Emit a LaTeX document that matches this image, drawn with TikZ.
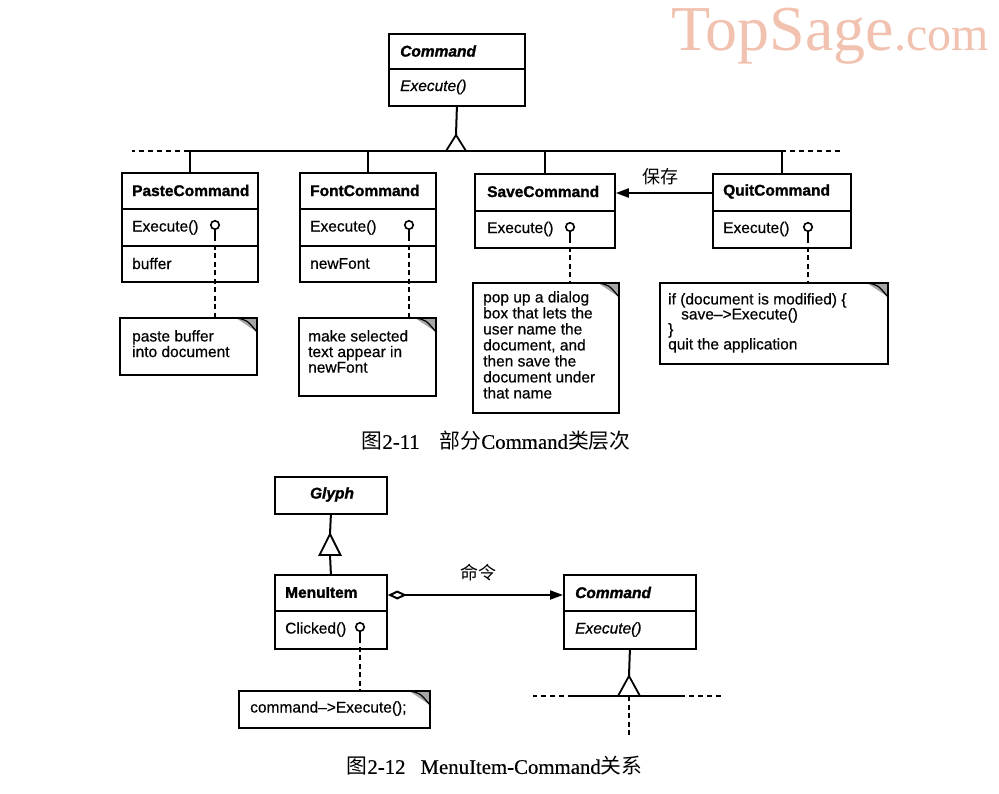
\documentclass[tikz,border=0pt]{standalone}
\usepackage{fontspec}
\setmainfont{Liberation Sans}[FakeBold=0.5]
\newfontfamily\heavy{Liberation Sans}[FakeBold=1.4]
\newfontfamily\cjk{Noto Sans CJK SC}
\newfontfamily\capserif{Liberation Serif}[FakeBold=0.4]
\newfontfamily\wmserif{Liberation Serif}
\usetikzlibrary{arrows.meta}
\definecolor{wmark}{RGB}{242,194,176}
\newcommand\divider[2]{\draw[line width=1.8pt] ([yshift=-#2pt]#1.north west) -- ([yshift=-#2pt]#1.north east);}
\begin{document}
\begin{tikzpicture}[x=1pt,y=-1pt,
  box/.style={draw, line width=1.8pt, inner sep=0, anchor=north west},
  cname/.style={font=\heavy\fontsize{15.5}{16}\selectfont\bfseries, inner sep=0, anchor=west},
  iname/.style={font=\heavy\fontsize{15.5}{16}\selectfont\bfseries\itshape, inner sep=0, anchor=west},
  meth/.style={font=\fontsize{15.5}{16}\selectfont, inner sep=0, anchor=west},
  imeth/.style={font=\fontsize{15.5}{16}\selectfont\itshape, inner sep=0, anchor=west},
  notetext/.style={font=\fontsize{15.5}{15.6}\selectfont, inner sep=0, anchor=north west, align=left},
  note/.style={draw, line width=1.8pt, inner sep=0, anchor=north west,
    path picture={
      \fill[gray!70] ([xshift=-21pt]path picture bounding box.north east) -- (path picture bounding box.north east) -- ([yshift=-14pt]path picture bounding box.north east) -- cycle;
      \draw[line width=1.2pt] ([xshift=-21pt]path picture bounding box.north east) .. controls ([xshift=-10pt,yshift=-2pt]path picture bounding box.north east) .. ([yshift=-14pt]path picture bounding box.north east);
    }},
  lolli/.style={circle, draw, line width=1.6pt, minimum size=8.5pt, inner sep=0},
  conn/.style={line width=2pt},
  dashline/.style={line width=2pt, dash pattern=on 5pt off 3.5pt},
  hdash/.style={line width=1.8pt, dash pattern=on 5pt off 4pt},
  tri/.style={line width=1.8pt, fill=white, line join=miter},
  cjklabel/.style={font=\cjk\fontsize{18}{18}\selectfont, inner sep=0},
  caption/.style={font=\fontsize{20.8}{21}\selectfont, inner sep=0}
]
\useasboundingbox (0,0) rectangle (999,793);
\fill[white] (0,0) rectangle (999,793);

% watermark
\node[inner sep=0, anchor=base west, text=wmark, font=\wmserif\fontsize{64}{64}\selectfont] (wm) at (671,50) {TopSage\fontsize{48}{48}\selectfont.com};

%%%%%%%%%%%%%%%% Figure 2-11
% Command
\node[box, minimum width=136pt, minimum height=72pt] (cmd) at (388,33) {};
\divider{cmd}{36}
\node[iname] (cmdn) at (400,51) {Command};
\node[imeth] (cmdm) at (400,87) {Execute()};

% hierarchy
\coordinate (h1) at (456,151);
\coordinate (hl) at (189,151);
\coordinate (hr) at (781,151);
\draw[conn] (hl) -- (hr);
\draw[hdash] (hl) -- ++(-57,0);
\draw[hdash] (hr) -- ++(61,0);
\draw[conn] (cmd.south) -- ([yshift=16pt]h1);
\draw[tri] ([xshift=-10pt]h1) -- ([yshift=16pt]h1) -- ([xshift=10pt]h1) -- cycle;

% PasteCommand
\node[box, minimum width=136pt, minimum height=109pt] (paste) at (121,172) {};
\divider{paste}{37}
\divider{paste}{74}
\node[cname] (pasten) at (132,190.5) {PasteCommand};
\node[meth] (pastem) at (132,227.5) {Execute()};
\node[meth] (pastea) at (132,263.5) {buffer};
\node[lolli] (plp) at (215,225) {};

% FontCommand
\node[box, minimum width=136pt, minimum height=109pt] (font) at (299,172) {};
\divider{font}{37}
\divider{font}{74}
\node[cname] (fontn) at (310,190.5) {FontCommand};
\node[meth] (fontm) at (310,227.5) {Execute()};
\node[meth] (fonta) at (310,263.5) {newFont};
\node[lolli] (flp) at (409,225) {};

% SaveCommand
\node[box, minimum width=140pt, minimum height=74pt] (save) at (474,173) {};
\divider{save}{38}
\node[cname] (saven) at (487,191.5) {SaveCommand};
\node[meth] (savem) at (487,229) {Execute()};
\node[lolli] (slp) at (570,227) {};

% QuitCommand
\node[box, minimum width=138pt, minimum height=74pt] (quit) at (712,173) {};
\divider{quit}{38}
\node[cname] (quitn) at (723,191.5) {QuitCommand};
\node[meth] (quitm) at (723,229) {Execute()};
\node[lolli] (qlp) at (808,227) {};

% subclass links
\draw[conn] (paste.north) -- (paste.north |- hl);
\draw[conn] (font.north) -- (font.north |- hl);
\draw[conn] (save.north) -- (save.north |- hl);
\draw[conn] (quit.north) -- (quit.north |- hl);

% Quit -> Save
\draw[conn, -{Triangle[length=13pt,width=9pt]}] ([yshift=-20pt]quit.north west) -- ([yshift=-20pt]save.north east);
\node[cjklabel] (baocun) at (660,177) {保存};

% notes
\node[note, minimum width=137pt, minimum height=57pt] (pnote) at (119,317) {};
\node[notetext] (pnotet) at (132,330) {paste buffer\\into document};
\node[note, minimum width=137pt, minimum height=78pt] (fnote) at (298,317) {};
\node[notetext] (fnotet) at (308,330) {make selected\\text appear in\\newFont};
\node[note, minimum width=146pt, minimum height=130pt] (snote) at (472,282) {};
\node[notetext, font=\fontsize{15.5}{16}\selectfont] (snotet) at (483,291) {pop up a dialog\\box that lets the\\user name the\\document, and\\then save the\\document under\\that name};
\node[note, minimum width=228pt, minimum height=81pt] (qnote) at (659,282) {};
\node[notetext, font=\fontsize{15.5}{15}\selectfont] (qnotet) at (668,293) {if (document is modified) \{\\\hspace*{13pt}save–>Execute()\\\}\\quit the application};

% lollipop links
\foreach \l/\n in {plp/pnote, flp/fnote, slp/snote, qlp/qnote}{
  \draw[line width=1.6pt] (\l.south) -- ++(0,6) coordinate (\l e);
  \draw[dashline] (\l e) -- (\n.north -| \l e);
}

\node[caption] (cap1) at (496,441) {\cjk 图\capserif 2-11\hspace{20pt}\cjk 部分\capserif Command\cjk 类层次};

%%%%%%%%%%%%%%%% Figure 2-12
\node[box, minimum width=112pt, minimum height=37pt] (glyph) at (274,476) {};
\node[iname, anchor=center] (glyphn) at (332,494.5) {Glyph};

\node[box, minimum width=112pt, minimum height=74pt] (menu) at (274,574) {};
\divider{menu}{37}
\node[cname] (menun) at (285,592.5) {MenuItem};
\node[meth] (menum) at (285,629.5) {Clicked()};
\node[lolli] (mlp) at (360,627) {};

\coordinate (h2) at (330,555);
\draw[conn] (glyph.south) -- ([yshift=21pt]h2);
\draw[conn] (h2) -- (menu.north);
\draw[tri] ([xshift=-10.5pt]h2) -- ([yshift=21pt]h2) -- ([xshift=10.5pt]h2) -- cycle;

\node[box, minimum width=132pt, minimum height=74pt] (cmd2) at (563,574) {};
\divider{cmd2}{37}
\node[iname] (cmd2n) at (575,592.5) {Command};
\node[imeth] (cmd2m) at (575,629.5) {Execute()};

\draw[conn, {Diamond[open,length=19pt,width=9pt]}-{Triangle[length=13pt,width=9pt]}] ([yshift=-21pt]menu.north east) -- ([yshift=-21pt]cmd2.north west);
\node[cjklabel] (mingling) at (478,573) {命令};

\coordinate (h3) at (629,696);
\coordinate (h3l) at (573,696);
\coordinate (h3r) at (680,696);
\draw[conn] (cmd2.south) -- ([yshift=20pt]h3);
\draw[conn] (h3l) -- (h3r);
\draw[hdash] (h3l) -- ++(-40,0);
\draw[hdash] (h3r) -- ++(43,0);
\draw[tri] ([xshift=-11pt]h3) -- ([yshift=20pt]h3) -- ([xshift=11pt]h3) -- cycle;
\draw[dashline] (h3) -- ++(0,41);

\node[note, minimum width=191pt, minimum height=37pt] (mnote) at (238,690) {};
\node[notetext, anchor=west] (mnotet) at (250,708.5) {command–>Execute();};
\draw[line width=1.6pt] (mlp.south) -- ++(0,6) coordinate (mlpe);
\draw[dashline] (mlpe) -- (mnote.north -| mlpe);

\node[caption] (cap2) at (494.5,766) {\cjk 图\capserif 2-12\hspace{15pt}MenuItem-Command\cjk 关系};
\end{tikzpicture}
\end{document}
